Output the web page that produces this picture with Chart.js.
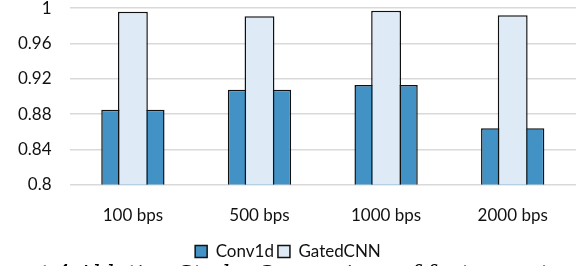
<!DOCTYPE html>
<html>
<head>
<meta charset="utf-8">
<script src="https://cdn.jsdelivr.net/npm/chart.js@4"></script>
<style>
    html, body { margin: 0; padding: 0; background: #ffffff; overflow: hidden; }
    #wrap { position: relative; width: 576px; height: 266px; overflow: hidden; }
    #chart-box { position: absolute; left: 0; top: -20px; width: 576px; height: 290px; }
    #caption {
        position: absolute; left: 40px; top: 261px; white-space: nowrap;
        font-family: "DejaVu Serif", "Liberation Serif", serif; font-style: italic;
        font-size: 22px; color: #000;
    }
</style>
</head>
<body>
<div id="wrap">
    <div id="chart-box"><canvas id="ablationChart"></canvas></div>
    <div id="caption">t 4 Ablation Study: Comparison of feature extractors and</div>
</div>
<script>
const categories = ['100 bps', '500 bps', '1000 bps', '2000 bps'];
const conv1dValues = [0.885, 0.9075, 0.913, 0.864];
const gatedCnnValues = [0.996, 0.991, 0.997, 0.992];
const yTicks = [0.8, 0.84, 0.88, 0.92, 0.96, 1];

function renderAblationChart() {
    const ctx = document.getElementById('ablationChart').getContext('2d');

    new Chart(ctx, {
        type: 'bar',
        data: {
            labels: categories,
            datasets: [{
                label: 'Conv1d',
                data: conv1dValues,
                backgroundColor: '#4292c6',
                borderColor: '#111111',
                borderWidth: 1.5,
                barPercentage: 0.5,
                categoryPercentage: 1,
                grouped: false,
                order: 1
            }, {
                label: 'GatedCNN',
                data: gatedCnnValues,
                backgroundColor: '#deebf7',
                borderColor: '#111111',
                borderWidth: 1.5,
                barPercentage: 0.236,
                categoryPercentage: 1,
                grouped: false,
                order: 0
            }]
        },
        options: {
            responsive: true,
            maintainAspectRatio: false,
            animation: false,
            plugins: {
                tooltip: { enabled: false },
                legend: {
                    position: 'bottom',
                    labels: {
                        color: '#111111',
                        font: { family: 'Lato', size: 17 },
                        boxWidth: 12,
                        boxHeight: 12,
                        padding: 4,
                        sort: (a, b) => a.datasetIndex - b.datasetIndex
                    }
                }
            },
            scales: {
                x: {
                    grid: { display: false },
                    border: { display: false },
                    ticks: {
                        color: '#111111',
                        font: { family: 'Lato', size: 17 },
                        padding: 13
                    }
                },
                y: {
                    min: 0.8,
                    max: 1,
                    afterBuildTicks: axis => {
                        axis.ticks = yTicks.map(v => ({ value: v }));
                    },
                    grid: { color: '#d9d9d9', lineWidth: 1.5, drawTicks: false },
                    border: { display: false },
                    ticks: {
                        color: '#111111',
                        font: { family: 'Lato', size: 17 },
                        padding: 18,
                        callback: function(value) {
                            return String(Math.round(value * 100) / 100);
                        }
                    }
                }
            }
        }
    });
}

renderAblationChart();
</script>
</body>
</html>
